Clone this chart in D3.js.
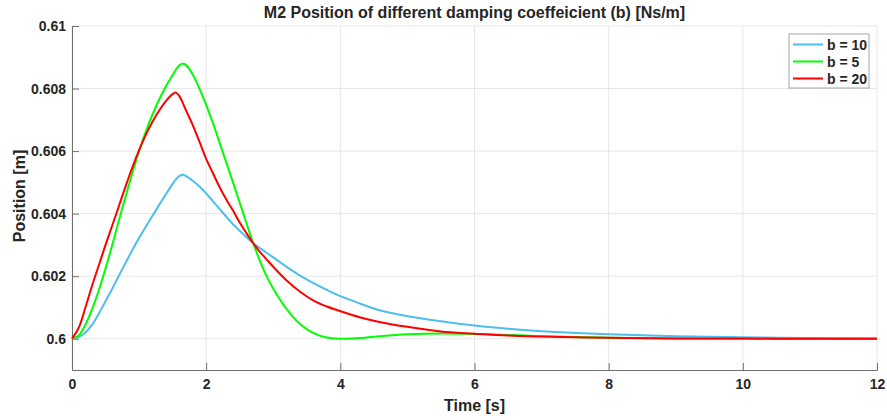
<!DOCTYPE html>
<html>
<head>
<meta charset="utf-8">
<script src="https://cdn.jsdelivr.net/npm/d3@7"></script>
<style>
  body { margin: 0; background: #fff; }
  text { font-family: "Liberation Sans", Arial, sans-serif; font-weight: bold; fill: #262626; }
</style>
</head>
<body>
<div id="chart"></div>
<script>
var svgWidth = 887;
var svgHeight = 420;

var margin = { top: 26, right: 10, bottom: 50, left: 72 };
var width = 877 - margin.left;
var height = 370 - margin.top;

// time samples [s]
var time = [0, 0.1, 0.2, 0.3, 0.4, 0.5, 0.6, 0.7, 0.8, 0.9, 1.0, 1.1, 1.2, 1.3, 1.4, 1.5, 1.55, 1.6, 1.65, 1.7,
  1.8, 1.9, 2.0, 2.1, 2.2, 2.3, 2.4, 2.5, 2.6, 2.7, 2.8, 2.9, 3.0, 3.2, 3.4, 3.6, 3.8, 4.0, 4.3, 4.6,
  5.0, 5.5, 6, 6.5, 7, 8, 9, 10, 11, 12];

// M2 position [m]
var posB10 = [0.6, 0.60005, 0.6002, 0.60045, 0.6008, 0.6012, 0.6016, 0.60202, 0.60243, 0.60284, 0.60322, 0.60358, 0.60393, 0.60428, 0.60462, 0.60495, 0.6051, 0.6052, 0.60524, 0.6052,
  0.60505, 0.60487, 0.60465, 0.6044, 0.60415, 0.6039, 0.60366, 0.60345, 0.60325, 0.60306, 0.6029, 0.60275, 0.6026, 0.6023, 0.60202, 0.60178, 0.60156, 0.60136, 0.60112, 0.6009,
  0.60072, 0.60056, 0.60042, 0.60032, 0.60024, 0.60014, 0.60008, 0.600045, 0.60002, 0.60001];
var posB5 = [0.6, 0.6001, 0.60045, 0.60095, 0.60155, 0.60225, 0.603, 0.6038, 0.60455, 0.6053, 0.606, 0.60662, 0.60717, 0.60765, 0.60807, 0.60843, 0.60861, 0.60874, 0.60879, 0.60875,
  0.60845, 0.608, 0.60748, 0.6069, 0.60627, 0.60563, 0.605, 0.60435, 0.6037, 0.60306, 0.6025, 0.602, 0.6016, 0.60095, 0.60047, 0.60018, 0.60004, 0.6, 0.60002, 0.60008,
  0.60014, 0.60017, 0.60015, 0.60012, 0.60008, 0.60003, 0.60001, 0.6, 0.6, 0.6];
var posB20 = [0.6, 0.60035, 0.601, 0.6017, 0.60235, 0.603, 0.60362, 0.60425, 0.60488, 0.60548, 0.60603, 0.60652, 0.60694, 0.6073, 0.6076, 0.60782, 0.60787, 0.60776, 0.60755, 0.6073,
  0.60683, 0.6063, 0.60575, 0.6053, 0.60485, 0.60445, 0.6041, 0.60372, 0.60338, 0.60306, 0.60278, 0.60254, 0.6023, 0.60186, 0.6015, 0.60122, 0.60103, 0.60088, 0.60068, 0.60053,
  0.60038, 0.60023, 0.60016, 0.6001, 0.60007, 0.60003, 0.60001, 0.600005, 0.6, 0.6];

var seriesNames = ["b = 10", "b = 5", "b = 20"];
var seriesColors = ["#4DBEEE", "#00FF00", "#FF0000"];
var seriesValues = [posB10, posB5, posB20];

var xTicks = [0, 2, 4, 6, 8, 10, 12];
var yTicks = [0.6, 0.602, 0.604, 0.606, 0.608, 0.61];

var svg = d3.select("#chart")
  .append("svg")
  .attr("width", svgWidth)
  .attr("height", svgHeight);

var chartGroup = svg.append("g")
  .attr("transform", `translate(${margin.left}, ${margin.top})`);

var xScale = d3.scaleLinear().domain([0, 12]).range([0, width]);
var yScale = d3.scaleLinear().domain([0.599, 0.61]).range([height, 0]);

// grid
chartGroup.append("g")
  .selectAll("line")
  .data(xTicks)
  .enter()
  .append("line")
  .attr("x1", d => xScale(d)).attr("x2", d => xScale(d))
  .attr("y1", 0).attr("y2", height)
  .attr("stroke", "#e6e6e6").attr("stroke-width", 1);

chartGroup.append("g")
  .selectAll("line")
  .data(yTicks)
  .enter()
  .append("line")
  .attr("x1", 0).attr("x2", width)
  .attr("y1", d => yScale(d)).attr("y2", d => yScale(d))
  .attr("stroke", "#e6e6e6").attr("stroke-width", 1);

// axes (ticks pointing inward)
var bottomAxis = d3.axisBottom(xScale).tickValues(xTicks).tickSize(-7).tickPadding(9).tickFormat(d3.format("d"));
var leftAxis = d3.axisLeft(yScale).tickValues(yTicks).tickSize(-7).tickPadding(6).tickFormat(d => String(+d.toFixed(3)));

var xAxisG = chartGroup.append("g")
  .attr("transform", `translate(0, ${height})`)
  .call(bottomAxis);
var yAxisG = chartGroup.append("g")
  .call(leftAxis);

[xAxisG, yAxisG].forEach(function(g) {
  g.select(".domain").attr("stroke", "#707070");
  g.selectAll(".tick line").attr("stroke", "#707070");
  g.selectAll(".tick text")
    .style("font-size", "14px")
    .style("font-family", "'Liberation Sans', Arial, sans-serif")
    .style("font-weight", "bold")
    .attr("fill", "#262626");
});

// lines
var line = d3.line()
  .x((d, i) => xScale(time[i]))
  .y(d => yScale(d))
  .curve(d3.curveCatmullRom.alpha(0.5));

seriesValues.forEach(function(vals, k) {
  chartGroup.append("path")
    .datum(vals)
    .attr("d", line)
    .attr("fill", "none")
    .attr("stroke", seriesColors[k])
    .attr("stroke-width", 2);
});

// title and labels
svg.append("text")
  .attr("x", margin.left + width / 2)
  .attr("y", 18)
  .attr("text-anchor", "middle")
  .style("font-size", "16px")
  .text("M2 Position of different damping coeffeicient (b) [Ns/m]");

svg.append("text")
  .attr("x", margin.left + width / 2)
  .attr("y", 411)
  .attr("text-anchor", "middle")
  .style("font-size", "16px")
  .text("Time [s]");

svg.append("text")
  .attr("transform", "translate(25, 196) rotate(-90)")
  .attr("text-anchor", "middle")
  .style("font-size", "16px")
  .text("Position [m]");

// legend
var legend = svg.append("g").attr("transform", "translate(789, 34)");
legend.append("rect")
  .attr("width", 80).attr("height", 54)
  .attr("fill", "#fff").attr("stroke", "#a6a6a6").attr("stroke-width", 1);

seriesNames.forEach(function(name, k) {
  var yy = 10.5 + k * 17;
  legend.append("line")
    .attr("x1", 4).attr("x2", 34)
    .attr("y1", yy).attr("y2", yy)
    .attr("stroke", seriesColors[k]).attr("stroke-width", 2);
  legend.append("text")
    .attr("x", 38).attr("y", yy + 5)
    .style("font-size", "14px")
    .text(name);
});
</script>
</body>
</html>
